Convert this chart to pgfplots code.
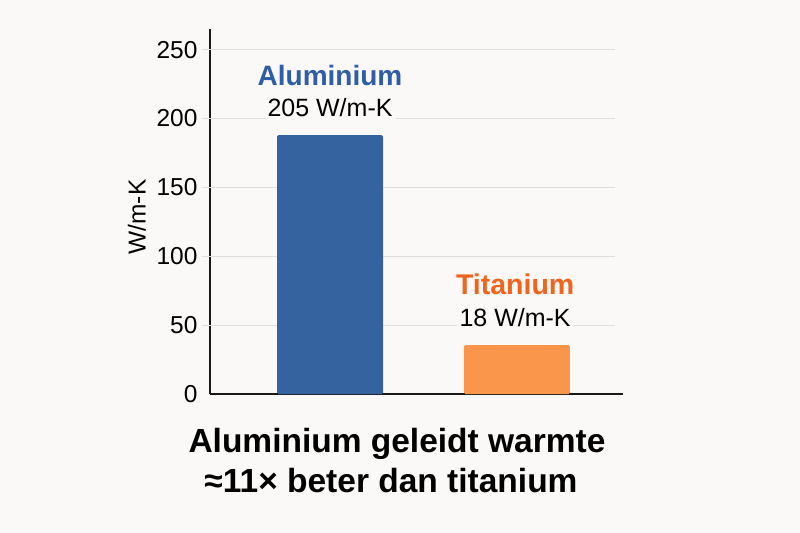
\documentclass[border=0pt]{standalone}
\usepackage{fontspec}
\setmainfont{Liberation Sans}
\usepackage{pgfplots}
\pgfplotsset{compat=1.18}
\definecolor{bgcol}{HTML}{FAF9F7}
\definecolor{alubar}{HTML}{3563A0}
\definecolor{alutxt}{HTML}{2F5EA6}
\definecolor{tibar}{HTML}{FA964B}
\definecolor{titxt}{HTML}{F0641E}
\definecolor{gridcol}{HTML}{DEDEDC}
\begin{document}
\begin{tikzpicture}
\fill[bgcol] (-210bp,-139bp) rectangle (590bp,394bp);
\useasboundingbox (-210bp,-139bp) rectangle (590bp,394bp);
\begin{axis}[
  scale only axis, width=413bp, height=365bp,
  xmin=0.358, xmax=2.567, ymin=0, ymax=265,
  axis x line*=bottom, axis y line*=left,
  axis line style={-, black!90, line width=1.4pt},
  xtick=\empty, ytick={0,50,100,150,200,250},
  major tick length=0pt,
  /pgf/number format/assume math mode=true,
  yticklabel style={font=\fontsize{24.5bp}{28bp}\selectfont, xshift=-9bp},
  ylabel={W/m-K},
  ylabel style={at={(axis description cs:-0.177,0.485)}, anchor=center, font=\fontsize{24.5bp}{28bp}\selectfont},
  ybar, bar width=0.567, bar shift=0pt,
  clip=false,
]
\foreach \g in {50,100,150,200,250}{
  \edef\tmp{\noexpand\draw[gridcol, line width=1pt] (axis cs:0.316,\g) -- (axis cs:2.524,\g);}\tmp
}
\addplot[fill=alubar, draw=none, rounded corners=1.5pt] coordinates {(1,188)};
\addplot[fill=tibar, draw=none, rounded corners=1.5pt] coordinates {(2,35.5)};
\node[anchor=base, text=alutxt, font=\bfseries\fontsize{28bp}{32bp}\selectfont] at (axis cs:1,223.8) {Aluminium};
\node[anchor=base, fill=bgcol, inner xsep=3bp, inner ysep=2bp, font=\fontsize{25bp}{28bp}\selectfont] at (axis cs:1,201.3) {205 W/m-K};
\node[anchor=base, text=titxt, font=\bfseries\fontsize{28.5bp}{32bp}\selectfont] at (axis cs:1.99,72) {Titanium};
\node[anchor=base, fill=bgcol, inner xsep=3bp, inner ysep=2bp, font=\fontsize{25bp}{28bp}\selectfont] at (axis cs:1.99,48.7) {18 W/m-K};
\end{axis}
\node[anchor=base, font=\bfseries\fontsize{33.5bp}{38bp}\selectfont] at (187bp,-58bp) {Aluminium geleidt warmte};
\node[anchor=base, font=\bfseries\fontsize{33.5bp}{38bp}\selectfont] at (181bp,-98bp) {≈11× beter dan titanium};
\end{tikzpicture}
\end{document}
